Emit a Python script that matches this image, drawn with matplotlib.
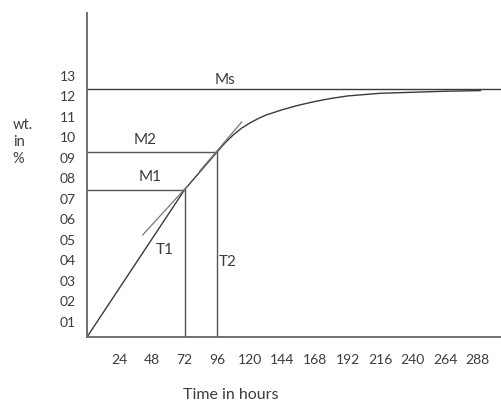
import matplotlib
matplotlib.use("Agg")
import matplotlib.pyplot as plt
import matplotlib.transforms as mtransforms

plt.rcParams['font.family'] = ['Lato', 'DejaVu Sans']

# ---- data (hours, wt %) ----
hours = [0, 72, 96, 102, 108, 114, 120, 126, 132, 144, 156, 168, 180, 192, 216, 240, 264, 290]
wt = [0.0, 7.2, 9.05, 9.5, 9.88, 10.2, 10.45, 10.66, 10.84, 11.1, 11.32, 11.5, 11.65, 11.77, 11.9, 11.95, 12.0, 12.03]

Ms = 12.1
M1 = 7.2
M2 = 9.05
T1 = 72
T2 = 96

tangent1_x = [41, 74]
tangent1_y = [4.98, 7.37]
tangent2_x = [83, 114]
tangent2_y = [8.1, 10.5]

x_ticks = [24, 48, 72, 96, 120, 144, 168, 192, 216, 240, 264, 288]
y_ticks = list(range(1, 14))
y_ticklabels = ["%02d" % v for v in y_ticks]

# ---- figure ----
W, H = 502, 403
fig = plt.figure(figsize=(W / 100, H / 100), dpi=100)
ax = fig.add_axes([87 / W, (H - 337) / H, (W - 87) / W, (337 - 13) / H])
ax.set_xlim(0, 305.8)
ax.set_ylim(0, 15.82)

line_col = '#3a3a3a'
ax.plot(hours, wt, color=line_col, lw=1.0, solid_capstyle='round')
ax.axhline(Ms, color=line_col, lw=1.0)
ax.plot([0, T1], [M1, M1], color='#555555', lw=1.0)
ax.plot([0, T2], [M2, M2], color='#555555', lw=1.0)
ax.plot([T1, T1], [0, M1], color='#555555', lw=1.0)
ax.plot([T2, T2], [0, M2], color='#555555', lw=1.0)
ax.plot(tangent1_x, tangent1_y, color='#777777', lw=0.9)
ax.plot(tangent2_x, tangent2_y, color='#777777', lw=0.9)

txt_col = '#3c3c3c'
fs = 11
ax.text(101.7, 12.56, "Ms", ha='center', va='center', fontsize=fs, color=txt_col)
ax.text(42.7, 9.62, "M2", ha='center', va='center', fontsize=fs, color=txt_col)
ax.text(46.4, 7.81, "M1", ha='center', va='center', fontsize=fs, color=txt_col)
ax.text(57.5, 4.25, "T1", ha='center', va='center', fontsize=fs, color=txt_col)
ax.text(103.5, 3.68, "T2", ha='center', va='center', fontsize=fs, color=txt_col)

for s in ['top', 'right']:
    ax.spines[s].set_visible(False)
for s in ['left', 'bottom']:
    ax.spines[s].set_color('#666666')
    ax.spines[s].set_linewidth(1.3)

ax.set_xticks(x_ticks)
ax.set_xticklabels([str(v) for v in x_ticks])
ax.set_yticks(y_ticks)
ax.set_yticklabels(y_ticklabels)
ax.tick_params(axis='both', length=0, labelsize=10, labelcolor=txt_col)
ax.tick_params(axis='x', pad=12)
ax.tick_params(axis='y', pad=8)
offset = mtransforms.ScaledTranslation(0, -5 / 100, fig.dpi_scale_trans)
for lbl in ax.get_yticklabels():
    lbl.set_transform(lbl.get_transform() + offset)

fig.text(231 / W, 1 - 395 / H, "Time in hours", ha='center', va='center',
         fontsize=11.5, color=txt_col)
fig.text(12.7 / W, 1 - 142 / H, "wt.\nin\n%", ha='left', va='center',
         fontsize=10.5, color=txt_col, linespacing=1.3)

fig.savefig("out.png", dpi=100)
